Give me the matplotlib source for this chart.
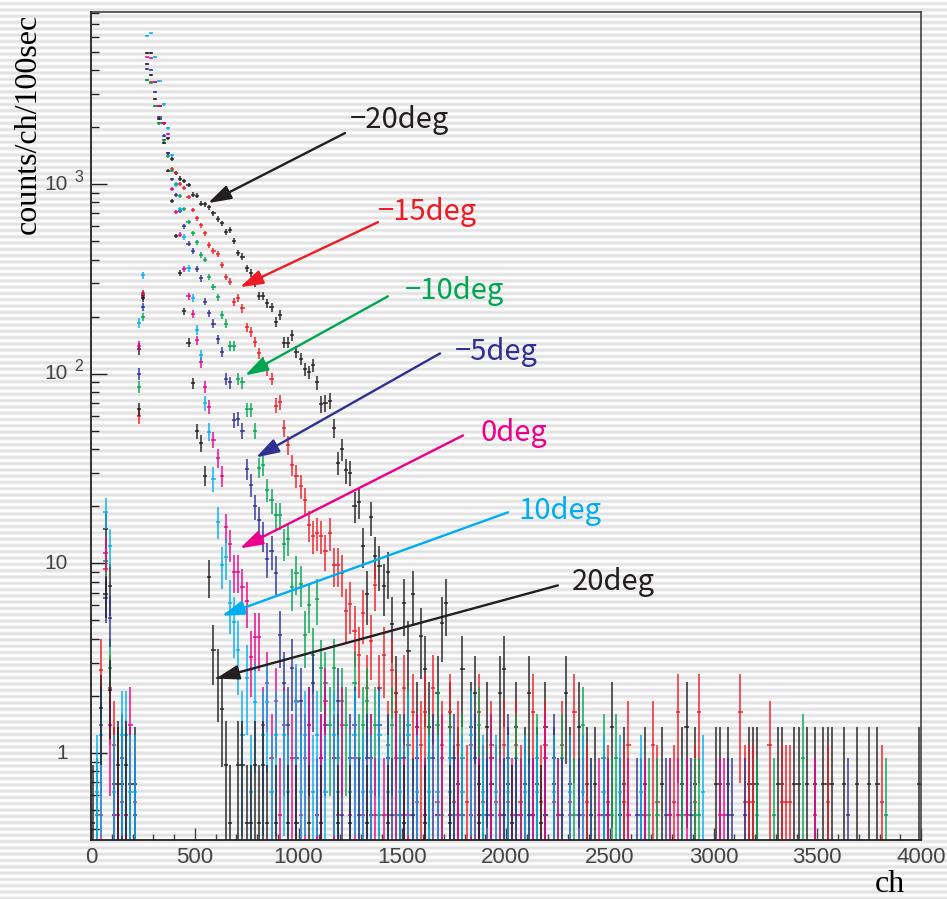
import numpy as np
import matplotlib
matplotlib.use('Agg')
import matplotlib.pyplot as plt
from matplotlib.ticker import FixedLocator, NullFormatter

#######################################################################
#                          Histogram layout                           #
#######################################################################
# 200 bins of 20 ch, centres at 10, 30, ..., 3990
bin_width = 20
n_bins = 200
first_center = 10

#######################################################################
#                                Data                                 #
#######################################################################
# Each angle: counts in the ch 10-210 bins, read-off values of the
# main spectrum from ch 230 on, then counts of the sparse tail.
# unit = counts/ch/100sec carried by a single count.

# -20deg
m20_unit = 0.69
m20_low = [0, 0, 0, 22, 11, 1, 1, 1, 0, 1, 1]
m20_vals = [135, 260, 4900, 4900, 3460, 2580, 2090, 1740, 1360, 1150,
            1070, 1040, 990, 880, 870, 790, 785, 757, 700, 654,
            620, 560, 572, 500, 434, 414, 359, 340, 300, 257,
            257, 235, 225, 188, 204, 146, 146, 160, 130, 120,
            106, 102, 111, 90, 69, 70, 72, 52, 34, 40,
            31, 30, 20, 21, 12.4, 6.9, 17.5, 11, 9.7, 7.6, 9.0, 4.8]
m20_tail = [3, 0, 9, 5, 10, 2, 6,
            4, 2, 0, 3, 7, 9, 2, 0, 1, 4, 0, 2, 3, 1, 0, 2, 1, 0, 3, 4,
            1, 0, 2, 0, 1, 3, 0, 1, 0, 2, 0, 1, 0, 0, 3, 1, 0, 2, 0, 1,
            0, 1, 0, 0, 0, 2, 0, 0, 1, 0, 0, 0, 0, 1, 0, 0, 0, 1, 0, 0,
            0, 0, 1, 2, 0, 1, 0, 0, 0, 0, 1, 1, 0, 1, 0, 0, 0, 0, 1, 1,
            1, 0, 0, 0, 0, 1, 1, 0, 0, 1, 1, 0, 1, 0, 1, 0, 1, 1, 1, 0,
            0, 1, 0, 0, 1, 0, 0, 1, 0, 1, 0, 0, 0, 0, 0, 0, 0, 0, 0, 1]

# -15deg
m15_unit = 0.55
m15_low = [0, 0, 5, 17, 4, 2, 0, 1, 0, 0, 1]
m15_vals = [60, 265, 3520, 3450, 2580, 2090, 1700, 1450, 1200, 1150,
            1000, 950, 857, 730, 660, 608, 550, 477, 445, 430,
            374, 324, 305, 240, 252, 221, 176, 166, 147, 128,
            115, 105, 94, 68, 71, 52, 42, 33, 29, 25.5,
            21.5, 16, 14, 14.5, 14, 11.6, 14.5, 9.8, 9.8, 8.9,
            5.6, 6.1, 4.4, 3.3, 5.5, 2.2, 3.9, 7.7]
m15_tail = [4, 6, 2, 5, 3, 0, 4, 2, 3, 1,
            2, 3, 0, 4, 1, 2, 0, 3, 1, 2, 0, 1, 2, 0, 3, 1, 0, 2, 1, 0, 2,
            1, 0, 2, 1, 0, 0, 3, 0, 1, 2, 0, 1, 0, 2, 0, 1, 3, 0, 0, 1,
            0, 0, 0, 0, 1, 0, 0, 0, 1, 2, 0, 0, 0, 0, 0, 2, 1, 0, 0, 0,
            1, 3, 0, 0, 0, 1, 3, 0, 0, 0, 0, 0, 0, 0, 0, 0, 3, 1, 1, 1,
            0, 0, 0, 2, 0, 0, 1, 1, 1, 0, 0, 0, 0, 0, 0, 0, 0, 1, 0, 0,
            0, 0, 0, 0, 0, 0, 0, 0, 0, 0, 1]

# -10deg
m10_unit = 0.47
m10_low = [0, 1, 0, 22, 6, 0, 0, 0, 0, 0, 0]
m10_vals = [85, 200, 3520, 3400, 2580, 2090, 1700, 1400, 1175, 1000,
            865, 743, 633, 549, 495, 422, 400, 324, 287, 254,
            204, 184, 140, 140, 94, 90, 65, 65, 50, 32,
            33, 24.5, 21.5, 18, 18, 12.7, 13.5, 7.5, 8.9, 7.8,
            4.2, 6.0, 3.3, 6.5, 2.8]
m10_tail = [5, 3, 6, 2, 4, 3, 0, 5, 2, 3,
            4, 2, 3, 1, 0, 2, 3, 1, 2, 0, 3, 1, 2, 0, 1, 2, 0, 3, 1, 0,
            2, 1, 0, 2, 0, 1, 0, 3, 1, 0, 2, 0, 1, 1, 0, 0, 2, 1, 0, 1,
            0, 2, 0, 1, 0, 0, 1, 2, 0, 0, 1, 0, 3, 0, 1, 0, 0, 2, 0, 1,
            2, 1, 0, 0, 0, 0, 0, 0, 1, 0, 1, 0, 0, 1, 0, 0, 1, 0, 0, 1,
            1, 0, 0, 0, 0, 0, 0, 0, 0, 0, 0, 0, 0, 0, 1, 0, 0, 0, 1, 0,
            0, 0, 0, 0, 0, 2, 0, 0, 0, 0, 0, 0, 0, 0, 0, 0, 0, 0, 0, 0,
            0, 0, 0, 0, 0, 1]

# -5deg
m5_unit = 0.47
m5_low = [0, 0, 3, 14, 11, 1, 0, 2, 1, 0, 1]
m5_vals = [100, 225, 4040, 4020, 3070, 2250, 1800, 1450, 1060, 880,
           720, 600, 486, 445, 356, 318, 240, 208, 184, 152,
           130, 94, 90, 57, 58, 50, 31.5, 26, 20, 17,
           14, 10.6, 11.6, 8.9, 4.2]
m5_tail = [5, 3, 6, 2, 4, 0, 3, 5, 1, 2,
           3, 0, 2, 4, 1, 0, 2, 3, 1, 0, 2, 1, 0, 3, 0, 2, 1, 0, 1, 2,
           0, 1, 2, 0, 1, 0, 2, 1, 0, 0, 1, 2, 0, 1, 0, 0, 2, 1, 0, 1,
           1, 0, 0, 1, 2, 0, 1, 0, 0, 1, 1, 0, 0, 1, 0, 2, 0, 1, 0, 0,
           0, 1, 0, 0, 1, 0, 0, 1, 1, 0, 0, 1, 0, 0, 0, 1, 1, 0, 0, 0,
           0, 0, 1, 0, 0, 0, 0, 0, 1, 0, 0, 0, 0, 0, 0, 0, 0, 1, 1, 0,
           0, 1, 0, 0, 0, 0, 0, 0, 0, 0, 0, 0, 0, 0, 0, 0, 0, 0, 0, 0,
           0, 0, 0, 0, 0, 0, 1]

# 0deg
z0_unit = 0.47
z0_low = [0, 0, 1, 24, 3, 1, 1, 0, 1, 3, 0]
z0_vals = [140, 255, 4660, 4600, 3460, 2580, 2100, 1835, 940, 715,
           540, 355, 257, 206, 150, 115, 85, 67, 45, 36,
           29, 15.5, 12.6, 9, 9, 7.5, 6.3, 3.2, 4.1, 4.1]
z0_tail = [3, 5, 2, 4, 1, 3, 0, 2, 4, 1,
           2, 3, 0, 1, 2, 4, 0, 2, 1, 3, 0, 1, 2, 0, 1, 0, 2, 1, 0, 1,
           1, 0, 2, 0, 1, 1, 0, 2, 0, 1, 0, 0, 1, 2, 0, 1, 0, 1, 0, 0,
           1, 0, 1, 0, 0, 2, 0, 1, 0, 0, 1, 0, 1, 0, 0, 1, 0, 0, 2, 0,
           0, 1, 0, 0, 1, 0, 0, 1, 0, 0, 0, 1, 0, 1, 0, 0, 0, 0, 1, 0,
           0, 0, 1, 0, 0, 0, 0, 0, 1, 0, 1, 0, 1, 0, 0, 0, 0, 0, 0, 0,
           1, 1, 0, 0, 0, 0, 0, 0, 0, 0, 0, 0, 0, 0, 0, 0, 0, 0, 0, 0,
           0, 0, 0, 1]

# 10deg
p10_unit = 0.62
p10_low = [0, 1, 2, 30, 20, 1, 0, 2, 2, 1, 1]
p10_vals = [185, 330, 6070, 6230, 4700, 3510, 2630, 1970, 1420, 990,
            735, 527, 360, 250, 170, 125, 70, 49.5, 28, 16.6,
            9.8, 10.8, 6.2, 4.9, 3.5]
p10_tail = [2, 4, 1, 3, 0, 2, 3, 1, 2, 0,
            2, 1, 0, 3, 1, 2, 0, 1, 2, 0, 1, 0, 2, 1, 0, 0, 1, 2, 0, 1,
            0, 1, 0, 2, 0, 1, 0, 0, 1, 0, 2, 0, 1, 0, 0, 1, 0, 1, 0, 0,
            1, 0, 0, 1, 0, 2, 0, 0, 1, 0, 0, 1, 0, 0, 1, 0, 0, 0, 1, 0,
            0, 1, 0, 0, 0, 1, 0, 0, 0, 1, 0, 0, 1, 0, 0, 0, 0, 1, 0, 0,
            0, 1, 0, 0, 0, 0, 1, 0, 0, 0, 0, 0, 0, 0, 0, 0, 0, 0, 0, 0,
            0, 1]

# 20deg
p20_unit = 0.43
p20_low = [1, 0, 4, 16, 5, 0, 2, 0, 2, 0, 0]
p20_vals = [65, 250, 4300, 3750, 2800, 2200, 1650, 1175, 815, 532,
            340, 213, 146, 89, 50, 43, 29, 8.5, 3.5, 2.5, 1.7]
p20_tail = [2, 1, 0, 2, 2, 1, 1, 2, 1, 2, 1, 0, 1, 0, 0, 1, 0, 1, 0, 0,
            1, 0, 0, 1, 0, 0, 0, 1, 0, 0, 1, 0, 0, 0, 1, 0, 0, 0, 0, 1,
            0, 0, 0, 1, 0, 0, 0, 0, 1, 0, 0, 0, 0, 0, 1, 0, 0, 0, 0, 0,
            0, 1, 0, 0, 0, 0, 0, 0, 0, 1, 0, 0, 0, 0, 0, 0, 1]

labels = ['\u221220deg', '\u221215deg', '\u221210deg', '\u22125deg',
          '0deg', '10deg', '20deg']
colors = ['#231f20', '#ed1c24', '#00a651', '#2e3192',
          '#ec008c', '#00aeef', '#231f20']


#######################################################################
#                              Functions                              #
#######################################################################
def build_hist(low, vals, tail, unit):
    """Put the three pieces of one spectrum onto the common bins.

    :returns: bin centres, contents and errors of the filled bins
    """
    centers = first_center + bin_width * np.arange(n_bins)
    y = np.zeros(n_bins)
    i0 = len(low)
    i1 = i0 + len(vals)
    y[:i0] = np.asarray(low, float) * unit
    y[i0:i1] = np.asarray(vals, float)
    y[i1:i1 + len(tail)] = np.asarray(tail, float) * unit
    err = np.sqrt(y * unit)    # Poisson error of the raw counts
    keep = y > 0
    return centers[keep], y[keep], err[keep]


#######################################################################
#                                Plot                                 #
#######################################################################
W, H = 947, 899
fig = plt.figure(figsize=(W / 100, H / 100), dpi=100)
fig.patch.set_facecolor('white')

# striped slide background
rows = np.arange(H)
shade = 0.94 + 0.06 * np.cos(2 * np.pi * rows / 6.3)
bg = np.repeat(shade[:, None], W, axis=1)
fig.figimage(bg, cmap='gray', vmin=0, vmax=1, zorder=-10)

ax = fig.add_axes([91 / W, 59 / H, 830 / W, 828 / H])
ax.set_facecolor('none')

spectra = [
    (m20_low, m20_vals, m20_tail, m20_unit),
    (m15_low, m15_vals, m15_tail, m15_unit),
    (m10_low, m10_vals, m10_tail, m10_unit),
    (m5_low, m5_vals, m5_tail, m5_unit),
    (z0_low, z0_vals, z0_tail, z0_unit),
    (p10_low, p10_vals, p10_tail, p10_unit),
    (p20_low, p20_vals, p20_tail, p20_unit),
]

for (low, vals, tail, unit), c in zip(spectra, colors):
    x, y, e = build_hist(low, vals, tail, unit)
    lo = np.clip(y - e, 1e-2, None)
    ax.vlines(x, lo, y + e, colors=c, lw=1.3, alpha=0.8)
    ax.hlines(y, x - bin_width / 2, x + bin_width / 2, colors=c, lw=1.3, alpha=0.8)

ax.set_yscale('log')
ax.set_xlim(0, 4000)
ax.set_ylim(0.348, 8080)

# ticks, ROOT style: inside, no labels on top / right
ax.xaxis.set_major_locator(FixedLocator(np.arange(0, 4001, 500)))
ax.xaxis.set_minor_locator(FixedLocator(np.arange(0, 4001, 100)))
ax.yaxis.set_major_locator(FixedLocator([1, 10, 100, 1000]))
ax.yaxis.set_minor_locator(FixedLocator(
    [k * 10.0 ** d for d in range(-1, 4) for k in range(2, 10)]))
ax.yaxis.set_major_formatter(NullFormatter())
ax.yaxis.set_minor_formatter(NullFormatter())
ax.tick_params(axis='x', which='major', direction='in', length=8.6, width=1,
               color='#444444', labelsize=16, labelcolor='#444444', pad=5)
ax.tick_params(axis='x', which='minor', direction='in', length=4.3, width=1,
               color='#444444')
ax.tick_params(axis='y', which='major', direction='in', length=11.5, width=1,
               color='#222222')
ax.tick_params(axis='y', which='minor', direction='in', length=5.8, width=1,
               color='#222222')
for lab in ax.get_xticklabels():
    lab.set_family('Liberation Sans')

for side in ['left', 'bottom']:
    ax.spines[side].set_color('#222222')
    ax.spines[side].set_linewidth(1.3)
for side in ['top', 'right']:
    ax.spines[side].set_color('#333333')
    ax.spines[side].set_linewidth(1.1)

# y labels: 1, 10, 10^2, 10^3 with the exponent set off to the right
for d in range(4):
    base = '1' if d == 0 else '10'
    ax.annotate(base, xy=(0, 10.0 ** d), xycoords=('axes fraction', 'data'),
                xytext=(-23, 0), textcoords='offset pixels', ha='right',
                va='center', fontsize=15, color='#444444',
                family='Liberation Sans')
    if d >= 2:
        ax.annotate(str(d), xy=(0, 10.0 ** d),
                    xycoords=('axes fraction', 'data'), xytext=(-17, 7),
                    textcoords='offset pixels', ha='left', va='center',
                    fontsize=11.5, color='#444444', family='Liberation Sans')

fig.text(28 / W, 1 - 14 / H, 'counts/ch/100sec', rotation=90, ha='center',
         va='top', fontsize=23, family='Liberation Serif')
fig.text(905 / W, 1 - 884 / H, 'ch', ha='right', va='center',
         fontsize=23, family='Liberation Serif')

# arrows pointing at each spectrum: (tip, tail, text anchor)
arrow_pos = [
    ((564, 794), (1224, 1858), (1248, 2180)),
    ((718, 286), (1383, 630), (1383, 711)),
    ((742, 98), (1431, 256), (1513, 272)),
    ((795, 36.2), (1682, 128), (1754, 130)),
    ((718, 12.0), (1793, 47.3), (1875, 49)),
    ((631, 5.3), (2010, 18.6), (2058, 19)),
    ((602, 2.47), (2250, 7.66), (2318, 7.94)),
]
for (tip, tail, txt), lab, c in zip(arrow_pos, labels, colors):
    ax.annotate('', xy=tip, xytext=tail,
                arrowprops=dict(arrowstyle='-|>,head_length=0.7,head_width=0.22',
                                color=c, lw=1.7, mutation_scale=20,
                                shrinkA=0, shrinkB=0))
    ax.text(txt[0], txt[1], lab, color=c, fontsize=21, ha='left', va='center',
            family=['Noto Sans CJK JP', 'DejaVu Sans'])

fig.savefig('out.png', dpi=100)
